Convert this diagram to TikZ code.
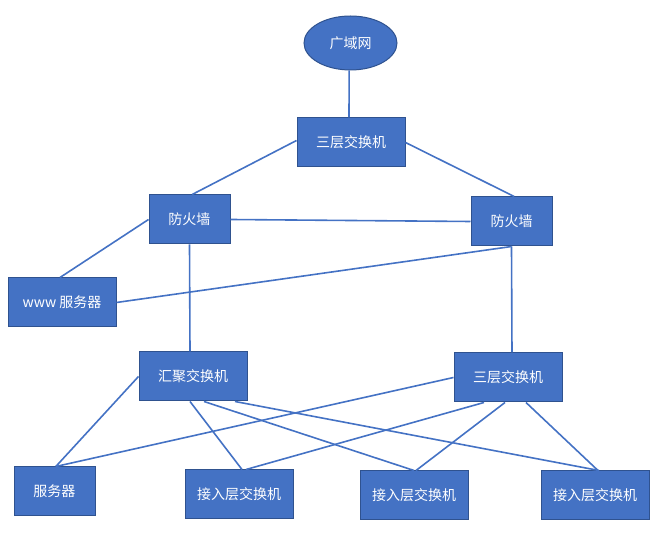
\documentclass[tikz,border=0pt]{standalone}
\usepackage{fontspec}
\newfontfamily\cjk{Noto Sans CJK SC}
\usetikzlibrary{shapes.geometric}
\definecolor{boxblue}{HTML}{4472C4}
\definecolor{boxedge}{HTML}{2F528F}
\tikzset{
    netbox/.style={draw=boxedge, line width=0.75pt, fill=boxblue, text=white, font=\cjk\fontsize{10.5}{12}\selectfont, minimum width=81pt, minimum height=36.75pt, inner sep=0pt},
    smallbox/.style={netbox, minimum width=60.75pt},
    link/.style={draw=boxblue, line width=1.2pt}
}
\begin{document}
\begin{tikzpicture}[x=0.75pt, y=-0.75pt]
        \useasboundingbox (0, 0) rectangle (662, 534);
        % Noeuds
        \node [netbox, ellipse, minimum width=69.75pt, minimum height=40.5pt] (wan) at (350.5, 43) {广域网};
        \node [netbox] (core) at (351, 142.5) {三层交换机};
        \node [smallbox] (fwl) at (189.5, 219.5) {防火墙};
        \node [smallbox] (fwr) at (511.5, 221.5) {防火墙};
        \node [netbox] (www) at (62, 302.5) {www 服务器};
        \node [netbox] (agg) at (193, 376.5) {汇聚交换机};
        \node [netbox] (l3) at (508, 377.5) {三层交换机};
        \node [smallbox] (srv) at (54.5, 491.5) {服务器};
        \node [netbox] (acc1) at (239, 494.5) {接入层交换机};
        \node [netbox] (acc2) at (414, 495.5) {接入层交换机};
        \node [netbox] (acc3) at (595, 495.5) {接入层交换机};

        % Liaisons
        \draw [link] ([xshift=-1pt]wan.south) -- ([xshift=-1.5pt]core.north);
        \draw [link] ([yshift=1.5pt]core.west) -- ([xshift=2pt]fwl.north);
        \draw [link] (core.east) -- ([xshift=2pt]fwr.north);
        \draw [link] (fwl.east) -- (fwr.west);
        \draw [link] (fwl.west) -- ([xshift=-1.5pt]www.north);
        \draw [link] (fwr.south) -- (www.east);
        \draw [link] (fwl.south) -- ([xshift=-2.25pt]agg.north);
        \draw [link] (fwr.south) -- ([xshift=3pt]l3.north);
        \draw [link] (agg.west) -- ([xshift=1pt]srv.north);
        \draw [link] (l3.west) -- ([xshift=1pt]srv.north);
        \draw [link] ([xshift=-2.25pt]agg.south) -- ([xshift=2.25pt]acc1.north);
        \draw [link] ([xshift=8.25pt]agg.south) -- (acc2.north);
        \draw [link] ([xshift=31.5pt]agg.south) -- ([xshift=3pt]acc3.north);
        \draw [link] ([xshift=-18pt]l3.south) -- ([xshift=5.25pt]acc1.north);
        \draw [link] ([xshift=-2.25pt]l3.south) -- ([xshift=1.5pt]acc2.north);
        \draw [link] ([xshift=13.5pt]l3.south) -- ([xshift=2.25pt]acc3.north);
\end{tikzpicture}
\end{document}
